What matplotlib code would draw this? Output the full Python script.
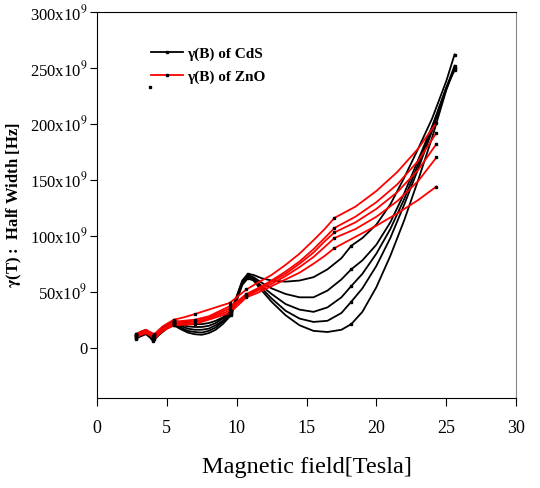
import matplotlib
matplotlib.use("Agg")
from matplotlib import pyplot as plt
from matplotlib.lines import Line2D
from matplotlib.ticker import FuncFormatter

plt.rcParams['font.family'] = ['Liberation Serif', 'DejaVu Serif']
plt.rcParams['mathtext.fontset'] = 'stix'

# magnetic field [Tesla] grid for the CdS curves
cds_field = [2.8, 3.1, 3.5, 3.8, 4.0,
             4.5, 5.0, 5.5,
             6.0, 6.5, 7.0, 7.5, 8.0, 8.5, 9.0, 9.6,
             10.0, 10.4, 10.8,
             11.2, 11.8, 12.5, 13.5, 14.5, 15.5, 16.5, 17.5, 18.2,
             19.0, 20.0, 21.0, 22.0, 23.0, 24.0, 25.0, 25.6]
cds_joints = [2.8, 4.0, 5.5, 9.6, 10.8, 18.2, 25.6]

# half width in units of 1e9 Hz
cds_1 = [12, 14, 16, 13, 10, 16, 21, 24, 23, 22, 21, 21, 22, 24, 27, 33,
         46, 60, 66, 65, 62, 60, 59, 60, 63, 70, 80, 91,
         98, 110, 128, 152, 178, 205, 238, 262]
cds_2 = [11, 13, 15, 12, 9, 15, 20, 23, 21, 19, 18.5, 18.5, 19.5, 22, 26, 32,
         45, 59, 65, 63, 58, 53, 48, 45, 45, 51, 61, 70,
         78, 92, 112, 138, 168, 198, 232, 252]
cds_3 = [10, 12, 14, 11, 8, 14, 19, 22, 19.5, 17, 16, 16, 17, 20, 24, 31,
         44, 58, 64, 62, 55, 48, 39, 34, 32, 36, 45, 55,
         66, 84, 106, 133, 164, 197, 232, 248]
cds_4 = [9, 11, 13, 10, 7, 13, 18, 21, 18, 15, 14, 13.5, 15, 18, 23, 30,
         43, 57, 63, 61, 53, 44, 33, 26, 23, 24, 31, 41,
         53, 73, 98, 128, 160, 194, 231, 250]
cds_5 = [8, 10, 12, 9, 6, 12, 17, 20, 16.5, 13.5, 12, 11.5, 13, 16, 21, 29,
         42, 56, 62, 60, 51, 41, 29, 20, 15, 14, 16, 21,
         32, 54, 82, 114, 150, 188, 230, 250]

zno_field = [2.8, 3.1, 3.5, 3.8, 4.1,
             4.7, 5.5,
             6.2, 7.0,
             8.0, 9.5,
             10.1, 10.7,
             11.5, 12.5, 13.5, 14.5, 15.5, 16.3, 17.0,
             18.5, 20.0, 21.5, 23.0, 24.3]
zno_joints = [2.8, 4.1, 5.5, 7.0, 9.5, 10.7, 17.0, 24.3]

zno_1 = [12, 14, 16, 14, 12, 19, 25, 27, 30, 34, 40, 46, 52,
         58, 65, 74, 84, 96, 106, 116, 126, 140, 157, 178, 201]
zno_2 = [11, 13, 15, 13, 11, 17, 23, 24, 25, 28, 37, 42, 48,
         53, 60, 68, 77, 88, 98, 107, 117, 130, 146, 167, 192]
zno_3 = [10, 12, 14, 12, 10, 16, 22, 23, 23.5, 27, 35, 41, 47,
         52, 59, 66, 75, 85, 95, 103, 112, 124, 139, 159, 182]
zno_4 = [10, 12, 14, 12, 9, 15, 21, 21.5, 22, 26, 33, 40, 46,
         51, 57, 64, 72, 81, 90, 98, 106, 117, 131, 149, 170]
zno_5 = [9, 11, 13, 11, 8, 15, 20, 20.5, 21, 25, 31, 38, 45,
         49, 55, 61, 67, 75, 82, 89, 99, 109, 120, 132, 144]

cds_curves = [cds_1, cds_2, cds_3, cds_4, cds_5]
zno_curves = [zno_1, zno_2, zno_3, zno_4, zno_5]

x_ticks = [0, 5, 10, 15, 20, 25, 30]
y_ticks = [0, 50, 100, 150, 200, 250, 300]


def y_label(v, pos):
    if v == 0:
        return "0"
    return "%dx10$^9$" % v


fig = plt.figure(figsize=(5.4, 4.88), dpi=100)
ax = fig.add_axes([0.1796, 0.1844, 0.776, 0.791])


def draw(ax, field, curves, joints, color):
    for ys in curves:
        ax.plot(field, ys, color=color, lw=1.3, zorder=2)
        jx = [x for x in field if x in joints]
        jy = [y for x, y in zip(field, ys) if x in joints]
        ax.plot(jx, jy, ls='none', marker='s', ms=1.6, color='black', zorder=3)


draw(ax, cds_field, cds_curves, cds_joints, 'black')
draw(ax, zno_field, zno_curves, zno_joints, '#ff0000')

# stray point under the legend
ax.plot([3.8], [233], ls='none', marker='s', ms=1.6, color='black')

ax.set_xlim(0, 30)
ax.set_ylim(-45, 300)
ax.set_xticks(x_ticks)
ax.set_yticks(y_ticks)
ax.yaxis.set_major_formatter(FuncFormatter(y_label))
ax.tick_params(axis='x', direction='out', length=6, pad=10, labelsize=13)
ax.tick_params(axis='y', direction='out', length=5, pad=2, labelsize=12)
ax.spines['right'].set_color('#888888')

ax.set_xlabel("Magnetic field[Tesla]", fontsize=17.5, labelpad=14)
ax.set_ylabel(r"$\mathbf{\gamma}$(T) :  Half Width [Hz]", fontsize=12,
              fontweight='bold', labelpad=4)

handles = [
    Line2D([0], [0], color='black', lw=1.3, marker='s', ms=1.6, mfc='black', mec='black'),
    Line2D([0], [0], color='#ff0000', lw=1.3, marker='s', ms=1.6, mfc='black', mec='black'),
]
ax.legend(handles, ["γ(B) of CdS", "γ(B) of ZnO"], loc='upper left',
          bbox_to_anchor=(0.095, 0.945), frameon=False, handlelength=2.1,
          handletextpad=0.3, labelspacing=0.6, prop={'weight': 'bold', 'size': 11})

fig.savefig("out.png", dpi=100, facecolor="white")
